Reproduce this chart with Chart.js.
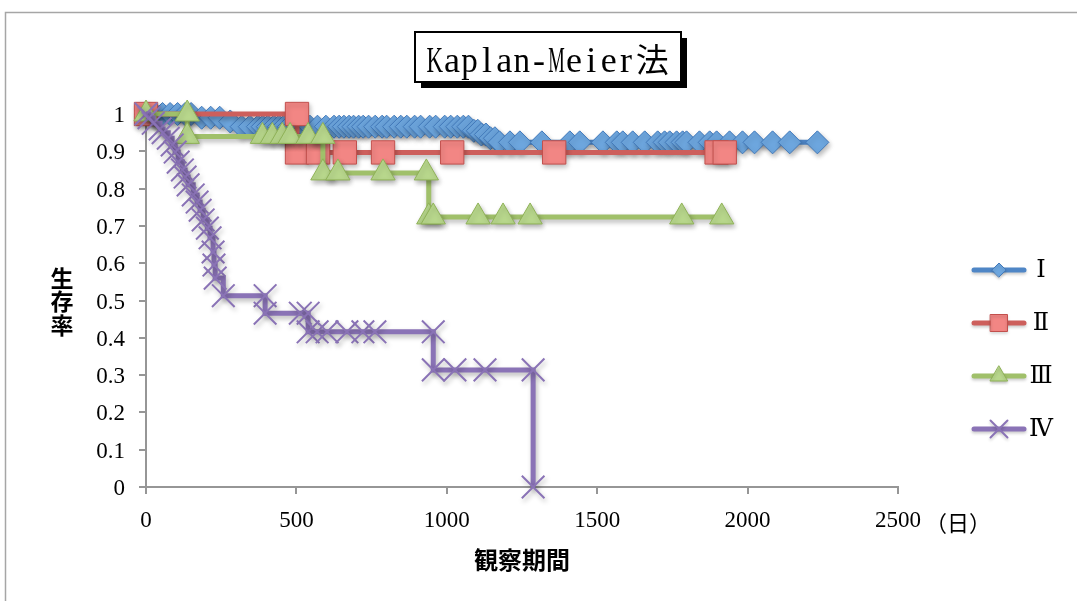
<!DOCTYPE html>
<html><head><meta charset="utf-8">
<script src="https://cdn.jsdelivr.net/npm/chart.js@4.4.1/dist/chart.umd.min.js"></script>
<style>html,body{margin:0;padding:0;background:#fff;}#wrap{width:1077px;height:601px;}</style>
</head><body><div id="wrap"><canvas id="c" width="1077" height="601"></canvas></div>
<script>
// ---- texts ----
const titleText = 'Kaplan-Meier法';
const xAxisTitle = '観察期間';
const yAxisTitle = '生存率';
const xUnit = '（日）';
const seriesNames = ['Ⅰ', 'Ⅱ', 'Ⅲ', 'Ⅳ'];

// ---- ticks ----
const xTickValues = [0, 500, 1000, 1500, 2000, 2500];
const xTickLabels = ['0', '500', '1000', '1500', '2000', '2500'];
const yTickValues = [0, 0.1, 0.2, 0.3, 0.4, 0.5, 0.6, 0.7, 0.8, 0.9, 1];
const yTickLabels = ['0', '0.1', '0.2', '0.3', '0.4', '0.5', '0.6', '0.7', '0.8', '0.9', '1'];

// ---- series I ----
const daysI = [0, 30, 55, 80, 105, 130, 150, 185, 215, 245, 280, 318, 345, 372, 388, 405, 425, 442, 458, 475, 492, 508, 525, 545, 570, 598, 625, 642, 658, 675, 690, 707, 722, 740, 762, 785, 800, 825, 847, 867, 893, 913, 943, 963, 993, 1013, 1035, 1055, 1072, 1090, 1103, 1115, 1130, 1145, 1160, 1175, 1210, 1243, 1316, 1409, 1442, 1519, 1565, 1585, 1618, 1658, 1701, 1724, 1741, 1764, 1784, 1797, 1840, 1874, 1897, 1940, 1983, 2023, 2083, 2140, 2232];
const survI = [1, 1, 1, 1, 1, 1, 1, 0.99, 0.99, 0.99, 0.98, 0.966, 0.966, 0.966, 0.966, 0.966, 0.966, 0.966, 0.966, 0.966, 0.966, 0.966, 0.966, 0.966, 0.966, 0.966, 0.966, 0.966, 0.966, 0.966, 0.966, 0.966, 0.966, 0.966, 0.966, 0.966, 0.966, 0.966, 0.966, 0.966, 0.966, 0.966, 0.966, 0.966, 0.966, 0.966, 0.966, 0.966, 0.966, 0.955, 0.955, 0.945, 0.945, 0.935, 0.935, 0.924, 0.924, 0.924, 0.924, 0.924, 0.924, 0.924, 0.924, 0.924, 0.924, 0.924, 0.924, 0.924, 0.924, 0.924, 0.924, 0.924, 0.924, 0.924, 0.924, 0.924, 0.924, 0.924, 0.924, 0.924, 0.924];

// ---- series II ----
const daysII = [0, 502, 502, 572, 661, 788, 1018, 1357, 1897, 1924];
const survII = [1, 1, 0.897, 0.897, 0.897, 0.897, 0.897, 0.897, 0.897, 0.897];

// ---- series III ----
const daysIII = [0, 137, 137, 387, 420, 453, 479, 539, 588, 588, 638, 788, 932, 940, 955, 1104, 1187, 1277, 1781, 1914];
const survIII = [1, 1, 0.94, 0.94, 0.94, 0.94, 0.94, 0.94, 0.94, 0.842, 0.842, 0.842, 0.842, 0.724, 0.724, 0.724, 0.724, 0.724, 0.724, 0.724];

// ---- series IV ----
const daysIV = [0, 10, 24, 47, 57, 74, 87, 97, 107, 121, 130, 140, 157, 170, 180, 190, 204, 213, 223, 226, 230, 257, 396, 396, 513, 539, 539, 569, 602, 668, 721, 761, 955, 955, 1027, 1127, 1287, 1287];
const survIV = [1, 0.99, 0.975, 0.96, 0.95, 0.935, 0.917, 0.898, 0.871, 0.85, 0.831, 0.81, 0.783, 0.764, 0.742, 0.716, 0.694, 0.668, 0.63, 0.595, 0.56, 0.513, 0.513, 0.466, 0.466, 0.466, 0.416, 0.416, 0.416, 0.416, 0.416, 0.416, 0.416, 0.314, 0.314, 0.314, 0.314, 0];

const allDays = [daysI, daysII, daysIII, daysIV];
const allSurv = [survI, survII, survIII, survIV];

const styles = [
  {line: '#4f86c6', fill: '#6da6de', edge: '#4279ba', style: 'rectRot', r: 11.5, lr: 7, bw: 1},
  {line: '#cd5f5c', fill: '#f28684', edge: '#c2504d', style: 'rect', r: 16.5, lr: 12, bw: 1},
  {line: '#a0c06a', fill: '#b8d78c', edge: '#8fb257', style: 'triangle', r: 14, lr: 10, bw: 1},
  {line: '#8a73b6', fill: '#8a73b6', edge: '#8a73b6', style: 'crossRot', r: 16, lr: 12, bw: 2}
];
const legendY = [270, 323, 376, 429];

const mk = (xs, ys) => xs.map((x, i) => ({x: x, y: ys[i]}));

const datasets = seriesNames.map((n, i) => ({
  label: n,
  data: mk(allDays[i], allSurv[i]),
  stepped: true,
  borderColor: styles[i].line,
  borderWidth: 5,
  pointStyle: styles[i].style,
  pointRadius: styles[i].r,
  pointBackgroundColor: styles[i].fill,
  pointBorderColor: styles[i].edge,
  pointBorderWidth: styles[i].bw,
  fill: false,
  clip: false,
  order: 4 - i
}));

function drawMarker(c, st, r, x, y) {
  c.fillStyle = st.fill; c.strokeStyle = st.edge; c.lineWidth = st.bw;
  if (window.Chart && Chart.helpers && Chart.helpers.drawPoint) {
    Chart.helpers.drawPoint(c, {pointStyle: st.style, radius: r, rotation: 0, borderWidth: st.bw}, x, y);
  }
}

const deco = {
  id: 'deco',
  beforeDatasetsDraw(chart) {
    const c = chart.ctx; c.save();
    c.shadowColor = 'rgba(0,0,0,0.28)'; c.shadowBlur = 5; c.shadowOffsetX = 1.5; c.shadowOffsetY = 3;
  },
  afterDatasetsDraw(chart) { chart.ctx.restore(); },
  afterDraw(chart) {
    const c = chart.ctx;
    c.save();
    // outer frame
    c.strokeStyle = '#a6a6a6'; c.lineWidth = 1.5;
    c.strokeRect(5.5, 12.5, 1200, 700);
    // title box
    c.fillStyle = '#000'; c.fillRect(421, 38, 266, 50);
    c.fillStyle = '#fff'; c.fillRect(415, 32, 266, 50);
    c.strokeStyle = '#000'; c.lineWidth = 2; c.strokeRect(415, 32, 266, 50);
    const h = 17.4; let x = 426;
    c.fillStyle = '#000';
    for (const ch of titleText) {
      const wide = ch.charCodeAt(0) > 0x2E80;
      const cw = wide ? 2 * h : h;
      c.font = wide ? '33px "Noto Sans CJK JP"' : '36px "Liberation Serif"';
      const w = c.measureText(ch).width;
      const sx = Math.min(1, cw * 0.95 / w);
      c.save(); c.translate(x + cw / 2, 72); c.scale(sx, 1);
      c.textAlign = 'center'; c.textBaseline = 'alphabetic';
      c.fillText(ch, 0, 0); c.restore();
      x += cw;
    }
    // axis titles
    c.fillStyle = '#000';
    c.font = 'bold 24px "Noto Sans CJK JP"';
    c.textAlign = 'center'; c.textBaseline = 'middle';
    c.fillText(xAxisTitle, 522, 560);
    c.font = 'bold 23px "Noto Sans CJK JP"';
    const yc = [278, 301.5, 325];
    [...yAxisTitle].forEach((ch, i) => c.fillText(ch, 62, yc[i]));
    c.font = '22px "Noto Sans CJK JP"';
    c.textAlign = 'left';
    c.fillText(xUnit, 925, 523);
    // legend
    seriesNames.forEach((n, i) => {
      const st = styles[i]; const y = legendY[i];
      c.save();
      c.shadowColor = 'rgba(0,0,0,0.2)'; c.shadowBlur = 3; c.shadowOffsetY = 2;
      c.strokeStyle = st.line; c.lineWidth = 5; c.lineCap = 'round';
      c.beginPath(); c.moveTo(974, y); c.lineTo(1024, y); c.stroke();
      drawMarker(c, st, st.lr, 999, y);
      c.restore();
      c.fillStyle = '#000';
      c.font = '24px "DejaVu Serif", "Liberation Serif", "Noto Sans CJK JP"';
      c.textAlign = 'center'; c.textBaseline = 'middle';
      c.fillText(n, 1041, y + 1);
    });
    c.restore();
  }
};

const axisColor = '#969696';
new Chart(document.getElementById('c'), {
  type: 'line',
  data: {datasets: datasets},
  options: {
    responsive: false,
    animation: false,
    events: [],
    layout: {padding: {left: 0, top: 114, right: 179, bottom: 0}},
    plugins: {legend: {display: false}, tooltip: {enabled: false}, title: {display: false}},
    scales: {
      x: {
        type: 'linear', min: 0, max: 2500,
        afterBuildTicks: s => { s.ticks = xTickValues.map(v => ({value: v})); },
        afterFit: s => { s.height = 114; },
        ticks: {
          callback: v => xTickLabels[xTickValues.indexOf(v)],
          font: {family: 'Liberation Serif', size: 23}, color: '#000',
          padding: 13, maxRotation: 0, autoSkip: false
        },
        grid: {display: true, drawOnChartArea: false, drawTicks: true, tickLength: 7, color: axisColor, lineWidth: 2},
        border: {display: true, color: axisColor, width: 2}
      },
      y: {
        type: 'linear', min: 0, max: 1,
        afterBuildTicks: s => { s.ticks = yTickValues.map(v => ({value: v})); },
        afterFit: s => { s.width = 146; },
        ticks: {
          callback: (v, i) => yTickLabels[i],
          font: {family: 'Liberation Serif', size: 23}, color: '#000',
          padding: 14, autoSkip: false, labelOffset: 2
        },
        grid: {display: true, drawOnChartArea: false, drawTicks: true, tickLength: 7, color: axisColor, lineWidth: 2},
        border: {display: true, color: axisColor, width: 2}
      }
    }
  },
  plugins: [deco]
});
</script>
</body></html>
